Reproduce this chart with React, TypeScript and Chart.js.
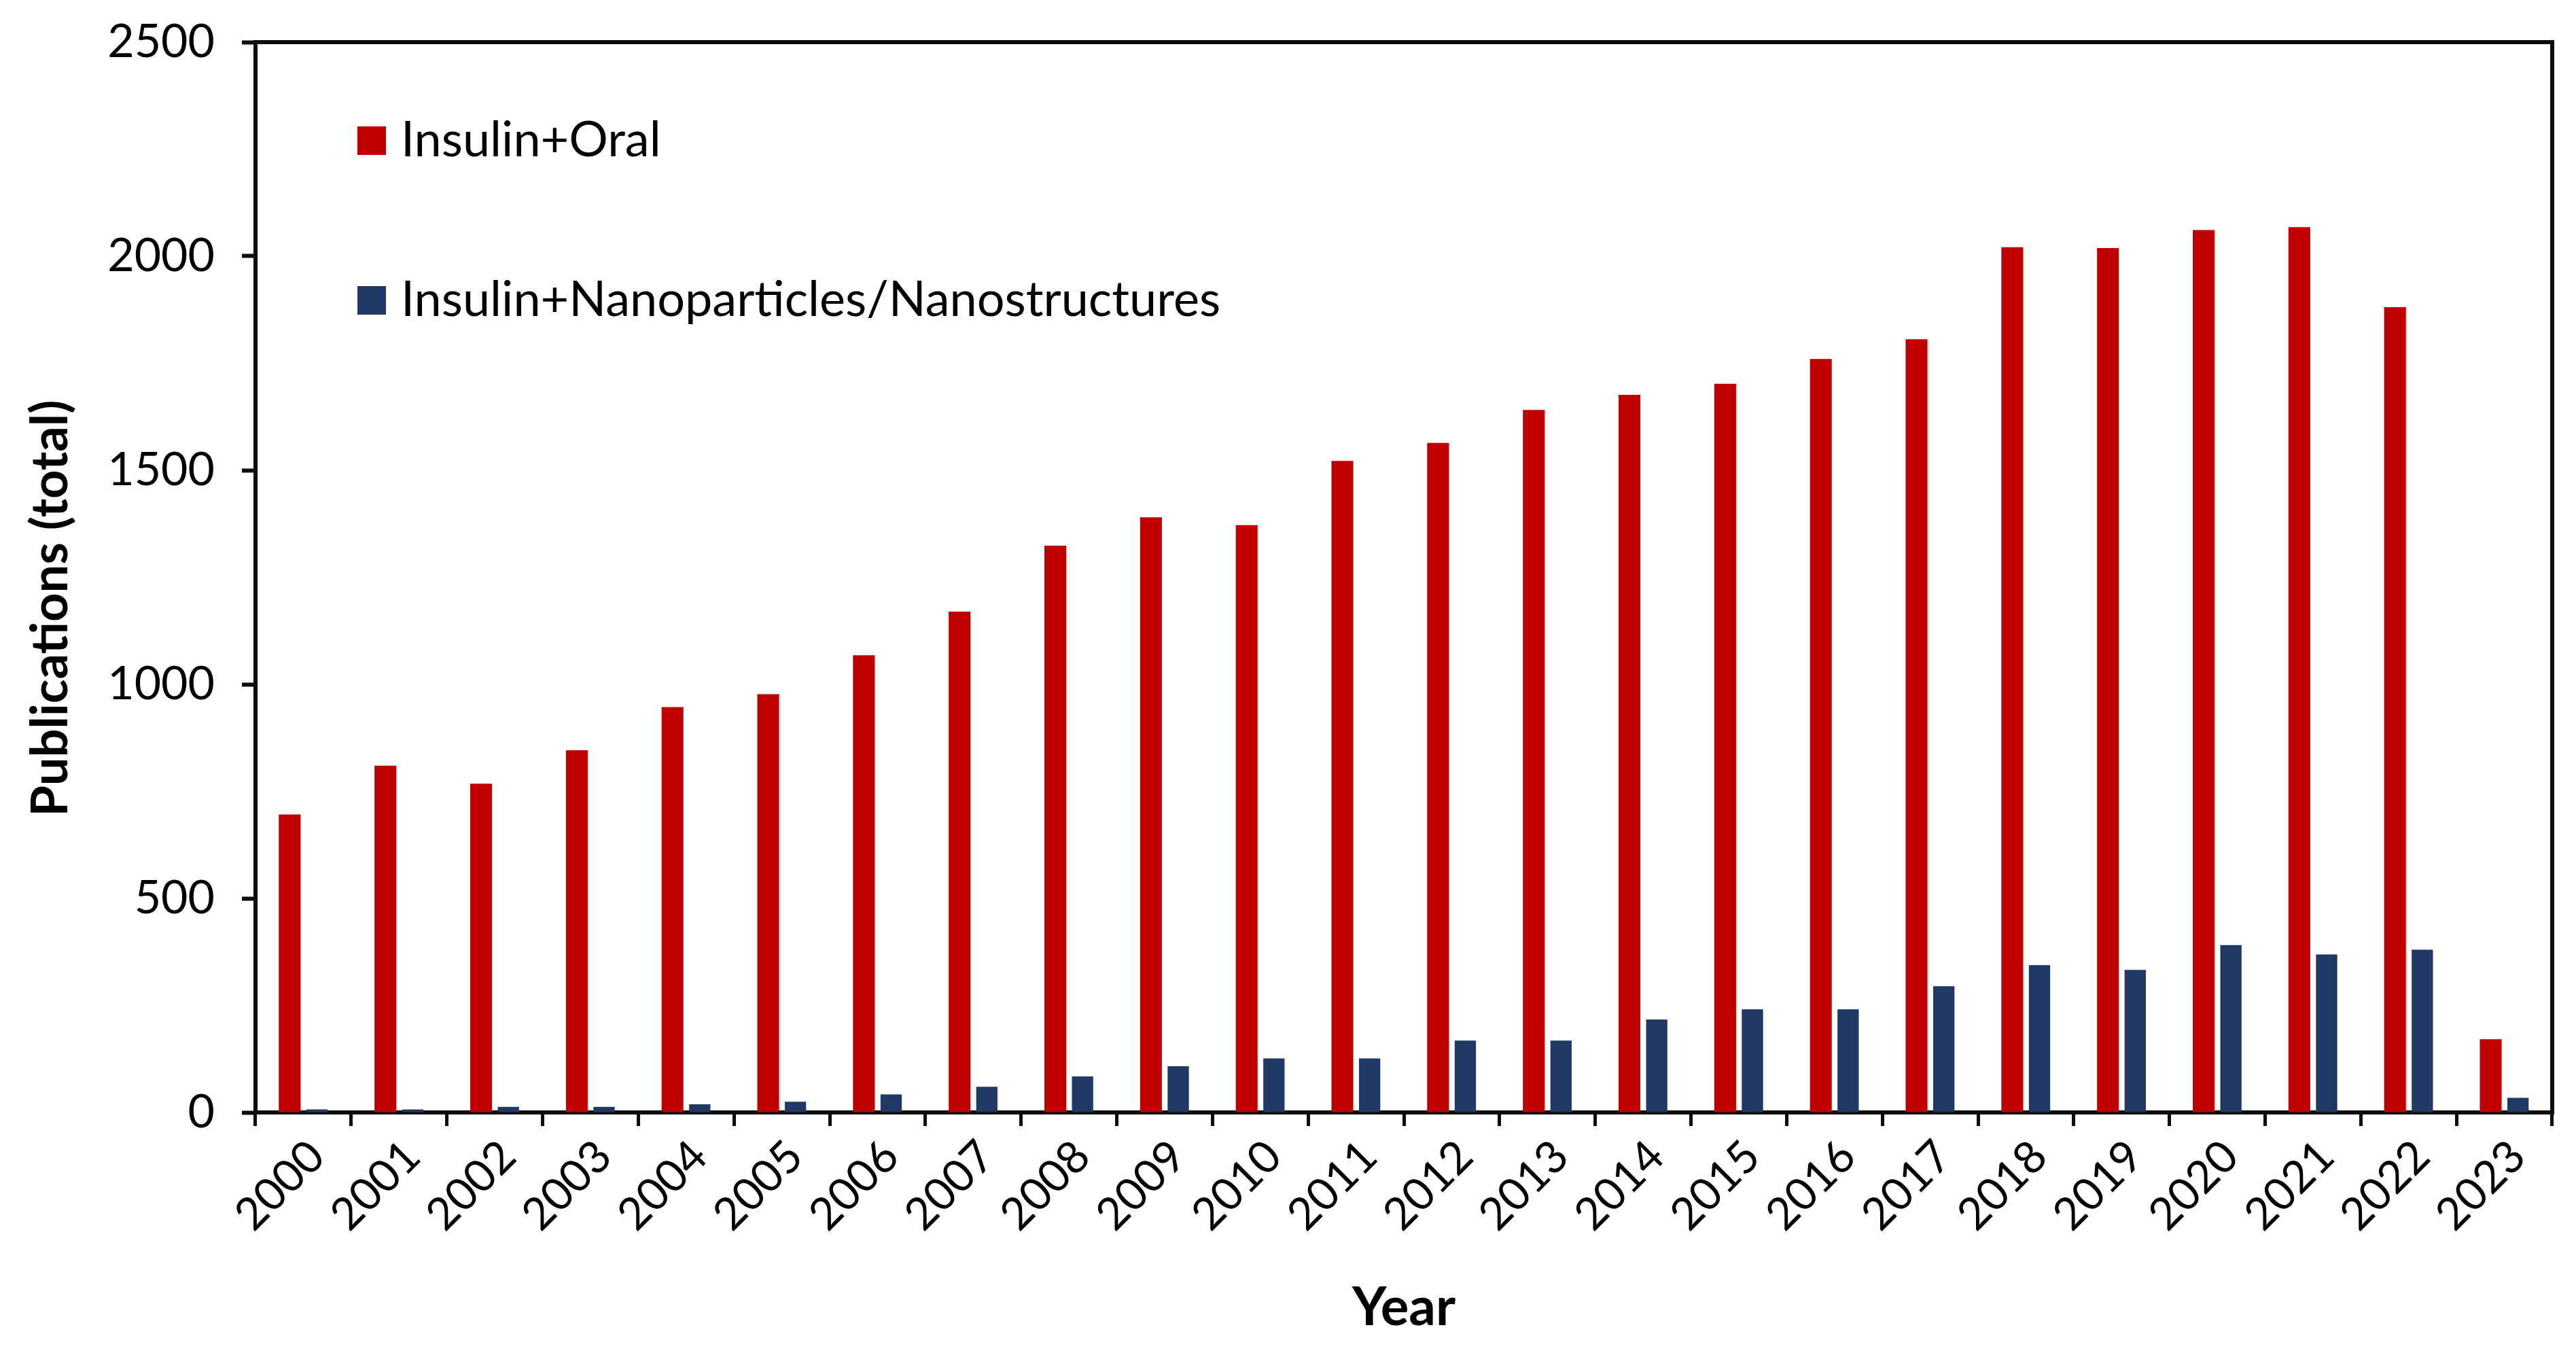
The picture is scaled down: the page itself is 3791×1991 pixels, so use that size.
import React, { useEffect, useRef } from "react";
import { Chart, registerables } from "chart.js";

Chart.register(...registerables);

const years = ["2000","2001","2002","2003","2004","2005","2006","2007","2008","2009","2010","2011","2012","2013","2014","2015","2016","2017","2018","2019","2020","2021","2022","2023"];
const oralValues = [696, 810, 768, 846, 947, 977, 1068, 1170, 1324, 1390, 1372, 1522, 1564, 1641, 1676, 1702, 1760, 1806, 2021, 2019, 2061, 2068, 1881, 171];
const nanoValues = [7, 7, 13, 13, 19, 25, 42, 60, 84, 108, 126, 126, 168, 168, 217, 241, 241, 295, 344, 333, 391, 369, 380, 34];
const seriesNames = ["Insulin+Oral", "Insulin+Nanoparticles/Nanostructures"];
const yTicks = [0, 500, 1000, 1500, 2000, 2500];
const yTitle = "Publications (total)";
const xTitle = "Year";

const FONT = "Lato, 'Open Sans', sans-serif";
const AXIS = "#0d0d0d";

const framePlugin = {
  id: "frame",
  afterDraw(chart: any) {
    const { ctx, chartArea } = chart;
    ctx.save();
    ctx.strokeStyle = AXIS;
    ctx.lineWidth = 6;
    ctx.beginPath();
    ctx.moveTo(chartArea.left - 3, chartArea.top);
    ctx.lineTo(chartArea.right, chartArea.top);
    ctx.lineTo(chartArea.right, chartArea.bottom + 3);
    ctx.stroke();
    ctx.restore();
  },
};

const yTitlePlugin = {
  id: "yTitle",
  afterDraw(chart: any) {
    const { ctx, chartArea } = chart;
    ctx.save();
    ctx.translate(75, chartArea.top + (chartArea.bottom - chartArea.top) * 0.529);
    ctx.rotate(-Math.PI / 2);
    ctx.fillStyle = "#000";
    ctx.font = `bold 74px ${FONT}`;
    ctx.textAlign = "center";
    ctx.textBaseline = "middle";
    ctx.fillText(yTitle, 0, 0);
    ctx.restore();
  },
};

const legendPlugin = {
  id: "inlineLegend",
  afterDraw(chart: any) {
    const { ctx, chartArea } = chart;
    ctx.save();
    const x0 = chartArea.left + 150;
    const rows = [chartArea.top + 145, chartArea.top + 380];
    chart.data.datasets.forEach((ds: any, i: number) => {
      const cy = rows[i];
      ctx.fillStyle = ds.backgroundColor;
      ctx.fillRect(x0, cy - 21, 42, 42);
      ctx.fillStyle = "#000";
      ctx.font = `72px ${FONT}`;
      ctx.textBaseline = "middle";
      ctx.textAlign = "left";
      ctx.fillText(ds.label, x0 + 64, cy);
    });
    ctx.restore();
  },
};

export default function App() {
  const ref = useRef<HTMLCanvasElement | null>(null);
  useEffect(() => {
    document.body.style.margin = "0";
    const chart = new Chart(ref.current as HTMLCanvasElement, {
      type: "bar",
      data: {
        labels: years,
        datasets: [
          { label: seriesNames[0], data: oralValues, backgroundColor: "#C00000", barPercentage: 0.8, categoryPercentage: 0.57 },
          { label: seriesNames[1], data: nanoValues, backgroundColor: "#203864", barPercentage: 0.78, categoryPercentage: 0.57 },
        ],
      },
      options: {
        animation: false,
        responsive: false,
        devicePixelRatio: 1,
        layout: { padding: { top: 62, right: 35, left: 0, bottom: 0 } },
        plugins: { legend: { display: false }, tooltip: { enabled: false } },
        scales: {
          x: {
            z: 1,
            offset: true,
            grid: { display: true, drawOnChartArea: false, drawTicks: true, tickLength: 20, tickWidth: 5, tickColor: AXIS, offset: true },
            border: { display: true, color: AXIS, width: 6 },
            ticks: { color: "#000", font: { family: FONT, size: 66 }, maxRotation: 45, minRotation: 45, padding: 6, autoSkip: false, labelOffset: 20 },
            title: { display: true, text: xTitle, color: "#000", font: { family: FONT, size: 78, weight: "bold" }, padding: { bottom: 19, top: 0 } },
            afterFit: (s: any) => { s.height = 1991 - 1637; s.paddingLeft = 0; s.paddingRight = 0; },
          },
          y: {
            z: 1,
            min: 0,
            max: 2500,
            afterBuildTicks: (s: any) => { s.ticks = yTicks.map((v) => ({ value: v })); },
            grid: { display: true, drawOnChartArea: false, drawTicks: true, tickLength: 20, tickWidth: 6, tickColor: AXIS },
            border: { display: true, color: AXIS, width: 6 },
            ticks: { color: "#000", font: { family: FONT, size: 68 }, padding: 40, callback: (v: any) => String(v) },
            title: { display: false, text: yTitle },
            afterFit: (s: any) => { s.width = 376; s.paddingTop = 0; s.paddingBottom = 0; },
          },
        },
      },
      plugins: [framePlugin, legendPlugin, yTitlePlugin],
    });
    return () => chart.destroy();
  }, []);
  return (
    <div style={{ position: "absolute", left: 0, top: 0, width: 3791, height: 1991, background: "#fff" }}>
      <canvas ref={ref} width={3791} height={1991} style={{ width: 3791, height: 1991 }} />
    </div>
  );
}
